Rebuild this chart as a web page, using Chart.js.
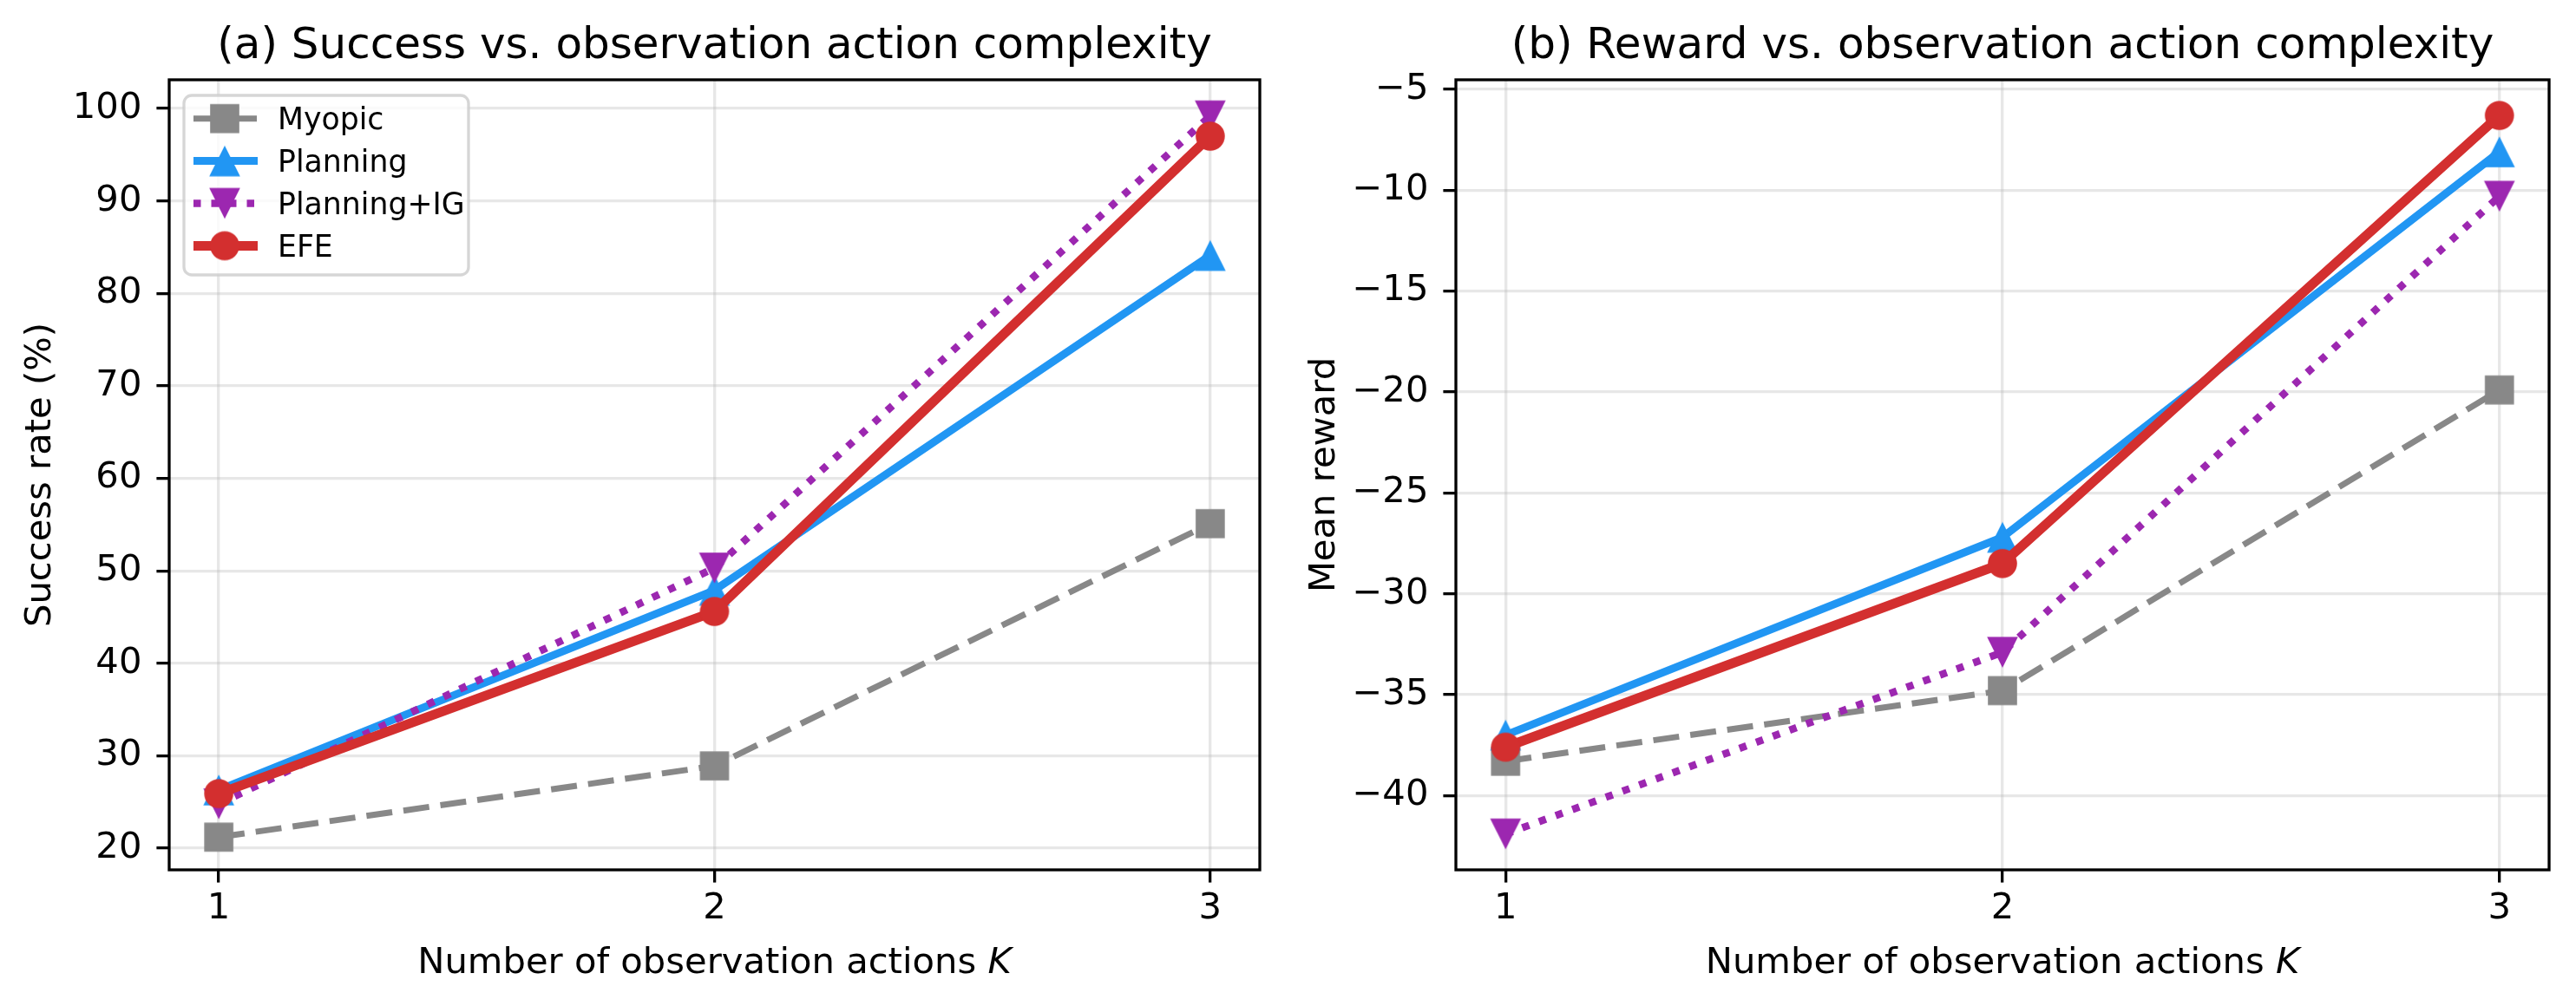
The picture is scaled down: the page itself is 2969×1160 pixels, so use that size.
<!DOCTYPE html>
<html><head><meta charset="utf-8">
<script src="https://cdn.jsdelivr.net/npm/chart.js@4.4.1/dist/chart.umd.min.js"></script>
<style>
html,body{margin:0;padding:0;background:#fff;}
#wrap{position:relative;width:2969px;height:1160px;overflow:hidden;background:#fff;}
canvas{position:absolute;top:0;}
</style></head><body>
<div id="wrap">
<canvas id="cA" width="1480" height="1160" style="left:0px"></canvas>
<canvas id="cB" width="1489" height="1160" style="left:1480px"></canvas>
</div>
<script>
// ---------------- data ----------------
const K_VALUES = [1, 2, 3];
const X_TICKS = [1, 2, 3];
const SERIES_NAMES = ['Myopic', 'Planning', 'Planning+IG', 'EFE'];

const SUCCESS_MYOPIC      = [21.2, 28.9, 55.1];
const SUCCESS_PLANNING    = [26.3, 47.9, 84.1];
const SUCCESS_PLANNING_IG = [24.8, 50.3, 99.2];
const SUCCESS_EFE         = [25.9, 45.6, 97.0];

const REWARD_MYOPIC      = [-38.3, -34.8, -19.9];
const REWARD_PLANNING    = [-37.0, -27.2, -8.1];
const REWARD_PLANNING_IG = [-41.9, -32.9, -10.3];
const REWARD_EFE         = [-37.6, -28.5, -6.3];

const Y_TICKS_SUCCESS = [20, 30, 40, 50, 60, 70, 80, 90, 100];
const Y_TICKS_REWARD  = [-40, -35, -30, -25, -20, -15, -10, -5];

const TITLE_A  = '(a) Success vs. observation action complexity';
const TITLE_B  = '(b) Reward vs. observation action complexity';
const YLABEL_A = 'Success rate (%)';
const YLABEL_B = 'Mean reward';
const XLABEL_TEXT = 'Number of observation actions ';
const XLABEL_VAR  = 'K';

// ---------------- styles ----------------
const FONT = '"DejaVu Sans", "Liberation Sans", sans-serif';
Chart.defaults.font.family = FONT;
Chart.defaults.color = '#000';

const COLORS = ['#888888', '#2196F3', '#9C27B0', '#D32F2F'];
const WIDTHS = [7, 9, 8.5, 11];
const DASHES = [[30, 13], [], [8.5, 12], []];
const MARKERS = ['square', 'up', 'down', 'circle'];

function makeMarker(kind, color) {
  const s = 38, m = s / 2;
  const c = document.createElement('canvas');
  c.width = s; c.height = s;
  const g = c.getContext('2d');
  g.fillStyle = color;
  g.beginPath();
  if (kind === 'square') { const h = 16.8; g.rect(m - h, m - h, 2 * h, 2 * h); }
  else if (kind === 'circle') { g.arc(m, m, 16.8, 0, Math.PI * 2); }
  else if (kind === 'up') { const h = 17.8; g.moveTo(m, m - h); g.lineTo(m + h, m + h); g.lineTo(m - h, m + h); g.closePath(); }
  else { const h = 17.8; g.moveTo(m, m + h); g.lineTo(m + h, m - h); g.lineTo(m - h, m - h); g.closePath(); }
  g.fill();
  return c;
}
const MARKER_IMGS = MARKERS.map((k, i) => makeMarker(k, COLORS[i]));

function buildDatasets(seriesList) {
  return seriesList.map((vals, i) => ({
    label: SERIES_NAMES[i],
    data: K_VALUES.map((k, j) => ({ x: k, y: vals[j] })),
    borderColor: COLORS[i],
    backgroundColor: COLORS[i],
    borderWidth: WIDTHS[i],
    borderDash: DASHES[i],
    borderCapStyle: 'butt',
    borderJoinStyle: 'round',
    pointStyle: MARKER_IMGS[i],
    pointRadius: 17,
    pointHoverRadius: 17,
    tension: 0,
    fill: false,
    order: 3 - i
  }));
}

const GRID_COLOR = 'rgba(176,176,176,0.3)';
const LW = 3.3;
const TICK_LEN = 14.6;

function minus(v) { return String(v).replace('-', '\u2212'); }

function makeScales(yMin, yMax, yTicks, yLabel, yWidth) {
  return {
    x: {
      type: 'linear', min: 0.9, max: 3.1,
      afterBuildTicks: s => { s.ticks = X_TICKS.map(v => ({ value: v })); },
      afterFit: s => { s.height = 157; },
      ticks: { callback: v => String(v), font: { size: 41.7 }, color: '#000', padding: 6, maxRotation: 0, autoSkip: false },
      grid: { color: GRID_COLOR, lineWidth: LW, drawTicks: true, tickLength: TICK_LEN, tickColor: '#000', tickWidth: LW },
      border: { display: false }
    },
    y: {
      type: 'linear', min: yMin, max: yMax,
      afterBuildTicks: s => { s.ticks = yTicks.map(v => ({ value: v })); },
      afterFit: s => { s.width = yWidth; },
      ticks: { callback: v => minus(v), font: { size: 41.7 }, color: '#000', padding: 17, autoSkip: false },
      grid: { color: GRID_COLOR, lineWidth: LW, drawTicks: true, tickLength: TICK_LEN, tickColor: '#000', tickWidth: LW },
      border: { display: false },
      title: { display: true, text: yLabel, font: { size: 41.7 }, color: '#000', padding: { top: 22, bottom: 0 } }
    }
  };
}

function decorPlugin(title, withLegend) {
  return {
    id: 'decor',
    afterDatasetsDraw(chart) {
      const { ctx, chartArea: a } = chart;
      ctx.save();
      ctx.strokeStyle = '#000';
      ctx.lineWidth = LW;
      ctx.setLineDash([]);
      ctx.strokeRect(a.left, a.top, a.right - a.left, a.bottom - a.top);
      ctx.restore();
    },
    afterDraw(chart) {
      const { ctx, chartArea: a } = chart;
      const cx = (a.left + a.right) / 2;
      ctx.save();
      ctx.fillStyle = '#000';
      ctx.textBaseline = 'alphabetic';
      ctx.textAlign = 'center';
      ctx.font = '50px ' + FONT;
      ctx.fillText(title, cx, a.top - 25);
      // x label with italic K
      ctx.font = '41.7px ' + FONT;
      const w1 = ctx.measureText(XLABEL_TEXT).width;
      ctx.font = 'oblique 41.7px ' + FONT;
      const w2 = ctx.measureText(XLABEL_VAR).width;
      const x0 = cx - (w1 + w2) / 2;
      ctx.textAlign = 'left';
      ctx.font = '41.7px ' + FONT;
      ctx.fillText(XLABEL_TEXT, x0, 1122);
      ctx.font = 'oblique 41.7px ' + FONT;
      ctx.fillText(XLABEL_VAR, x0 + w1, 1122);
      ctx.restore();

      if (withLegend) {
        const bx = 212, by = 110, bw = 328, bh = 207;
        ctx.save();
        ctx.beginPath();
        ctx.roundRect(bx, by, bw, bh, 9);
        ctx.fillStyle = 'rgba(255,255,255,0.8)';
        ctx.fill();
        ctx.strokeStyle = 'rgba(204,204,204,0.8)';
        ctx.lineWidth = LW;
        ctx.stroke();
        chart.data.datasets.forEach((ds, i) => {
          const ry = 136.7 + i * 48.9;
          ctx.beginPath();
          ctx.strokeStyle = ds.borderColor;
          ctx.lineWidth = ds.borderWidth;
          ctx.lineCap = 'butt';
          ctx.setLineDash(ds.borderDash);
          ctx.moveTo(223, ry);
          ctx.lineTo(297, ry);
          ctx.stroke();
          ctx.setLineDash([]);
          const img = ds.pointStyle;
          ctx.drawImage(img, 259 - img.width / 2, ry - img.height / 2);
          ctx.fillStyle = '#000';
          ctx.font = '34.7px ' + FONT;
          ctx.textAlign = 'left';
          ctx.textBaseline = 'alphabetic';
          ctx.fillText(ds.label, 320, ry + 12.6);
        });
        ctx.restore();
      }
    }
  };
}

function makeChart(id, seriesList, yMin, yMax, yTicks, yLabel, yWidth, rightPad, title, withLegend) {
  return new Chart(document.getElementById(id), {
    type: 'line',
    data: { datasets: buildDatasets(seriesList) },
    options: {
      responsive: false,
      animation: false,
      devicePixelRatio: 1,
      layout: { padding: { top: 92, right: rightPad, bottom: 0, left: 0 } },
      plugins: { legend: { display: false }, tooltip: { enabled: false }, title: { display: false } },
      scales: makeScales(yMin, yMax, yTicks, yLabel, yWidth)
    },
    plugins: [decorPlugin(title, withLegend)]
  });
}

makeChart('cA', [SUCCESS_MYOPIC, SUCCESS_PLANNING, SUCCESS_PLANNING_IG, SUCCESS_EFE],
  17.66, 103.1, Y_TICKS_SUCCESS, YLABEL_A, 195, 23, TITLE_A, true);
makeChart('cB', [REWARD_MYOPIC, REWARD_PLANNING, REWARD_PLANNING_IG, REWARD_EFE],
  -43.68, -4.53, Y_TICKS_REWARD, YLABEL_B, 198, 31, TITLE_B, false);
</script>
</body></html>
